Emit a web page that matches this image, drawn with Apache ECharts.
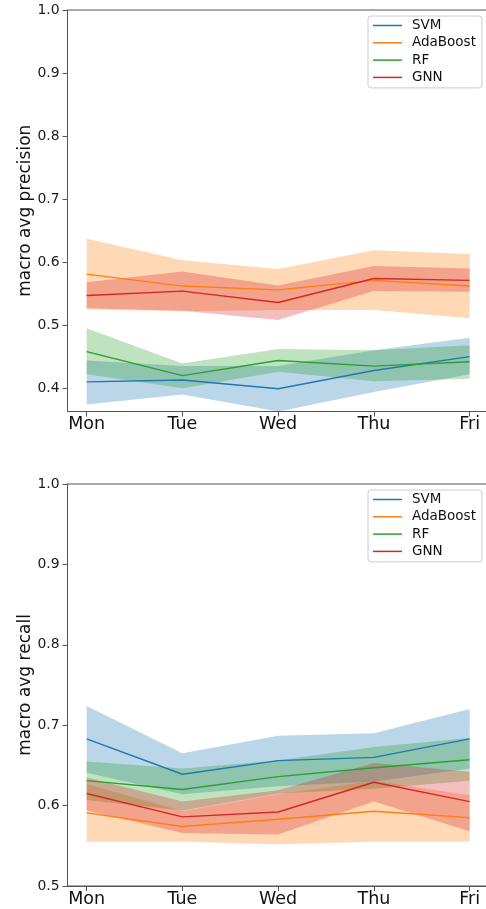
<!DOCTYPE html>
<html><head><meta charset="utf-8">
<script src="https://cdn.jsdelivr.net/npm/echarts@6/dist/echarts.min.js"></script>
<style>html,body{margin:0;padding:0;background:#fff}#c{width:486px;height:909px}</style>
</head><body><div id="c"></div>
<script>
const days = ['Mon', 'Tue', 'Wed', 'Thu', 'Fri'];
const models = ['SVM', 'AdaBoost', 'RF', 'GNN'];
const colors = ['#1f77b4', '#ff7f0e', '#2ca02c', '#d62728'];
const dayTicks = [0, 1, 2, 3, 4];
const yTicksPrecision = [0.4, 0.5, 0.6, 0.7, 0.8, 0.9, 1.0];
const yTicksRecall = [0.5, 0.6, 0.7, 0.8, 0.9, 1.0];

// macro avg precision: mean, lower band, upper band
const precSvmMean = [0.410, 0.413, 0.399, 0.428, 0.450];
const precSvmLow  = [0.374, 0.390, 0.363, 0.394, 0.422];
const precSvmHigh = [0.444, 0.435, 0.435, 0.460, 0.480];
const precAdaMean = [0.581, 0.562, 0.556, 0.571, 0.562];
const precAdaLow  = [0.525, 0.522, 0.524, 0.524, 0.511];
const precAdaHigh = [0.637, 0.603, 0.589, 0.619, 0.613];
const precRfMean  = [0.458, 0.420, 0.444, 0.435, 0.442];
const precRfLow   = [0.422, 0.400, 0.426, 0.411, 0.415];
const precRfHigh  = [0.495, 0.439, 0.462, 0.460, 0.468];
const precGnnMean = [0.547, 0.554, 0.536, 0.574, 0.571];
const precGnnLow  = [0.527, 0.523, 0.508, 0.554, 0.553];
const precGnnHigh = [0.568, 0.585, 0.563, 0.594, 0.590];

// macro avg recall: mean, lower band, upper band
const recSvmMean = [0.683, 0.639, 0.656, 0.660, 0.683];
const recSvmLow  = [0.641, 0.614, 0.624, 0.630, 0.646];
const recSvmHigh = [0.724, 0.665, 0.687, 0.690, 0.720];
const recAdaMean = [0.591, 0.574, 0.583, 0.593, 0.585];
const recAdaLow  = [0.555, 0.555, 0.552, 0.555, 0.555];
const recAdaHigh = [0.627, 0.593, 0.614, 0.631, 0.613];
const recRfMean  = [0.631, 0.620, 0.636, 0.647, 0.657];
const recRfLow   = [0.607, 0.594, 0.615, 0.621, 0.631];
const recRfHigh  = [0.655, 0.646, 0.656, 0.673, 0.684];
const recGnnMean = [0.615, 0.586, 0.592, 0.629, 0.605];
const recGnnLow  = [0.594, 0.566, 0.564, 0.605, 0.568];
const recGnnHigh = [0.635, 0.605, 0.619, 0.653, 0.642];

const panels = [
  { means: [precSvmMean, precAdaMean, precRfMean, precGnnMean],
    lows: [precSvmLow, precAdaLow, precRfLow, precGnnLow],
    highs: [precSvmHigh, precAdaHigh, precRfHigh, precGnnHigh] },
  { means: [recSvmMean, recAdaMean, recRfMean, recGnnMean],
    lows: [recSvmLow, recAdaLow, recRfLow, recGnnLow],
    highs: [recSvmHigh, recAdaHigh, recRfHigh, recGnnHigh] }
];

const FONT = 'DejaVu Sans';
const AX = '#555';
const series = [];

function bandRenderer(color) {
  return function (params, api) {
    if (params.dataIndexInside !== 0) return null;
    const n = params.dataInsideLength;
    const upper = [], lower = [];
    for (let k = 0; k < n; k++) {
      const x = api.value(0, k);
      upper.push(api.coord([x, api.value(2, k)]));
      lower.push(api.coord([x, api.value(1, k)]));
    }
    const pts = upper.concat(lower.reverse());
    return {
      type: 'polygon',
      shape: { points: pts },
      style: { fill: color, opacity: 0.3, stroke: null },
      silent: true
    };
  };
}

panels.forEach((p, gi) => {
  models.forEach((m, i) => {
    series.push({
      type: 'custom', name: m + ' band ' + gi, xAxisIndex: gi, yAxisIndex: gi,
      data: p.lows[i].map((v, k) => [k, v, p.highs[i][k]]),
      encode: { x: 0, y: [1, 2] },
      renderItem: bandRenderer(colors[i]), silent: true, clip: true, z: 1
    });
  });
  models.forEach((m, i) => {
    series.push({
      type: 'line', name: m, xAxisIndex: gi, yAxisIndex: gi,
      data: p.means[i].map((v, k) => [k, v]), symbol: 'none',
      lineStyle: { color: colors[i], width: 1.4 }, itemStyle: { color: colors[i] }, z: 3
    });
  });
});

function xAxis(gi) {
  return {
    gridIndex: gi, type: 'value', min: -0.2, max: 4.2,
    axisLine: { show: true, onZero: false, lineStyle: { color: AX, width: 1 } },
    axisTick: { show: true, customValues: dayTicks, length: 5, lineStyle: { color: AX } },
    axisLabel: { customValues: dayTicks, formatter: v => days[Math.round(v)], fontSize: 17.5,
                 color: '#111', margin: 4, fontFamily: FONT },
    splitLine: { show: false }
  };
}
function yAxis(gi, min, ticks, name) {
  return {
    gridIndex: gi, type: 'value', min: min, max: 1.0,
    axisLine: { show: true, onZero: false, lineStyle: { color: AX, width: 1 } },
    axisTick: { show: true, customValues: ticks, length: 5, lineStyle: { color: AX } },
    axisLabel: { customValues: ticks, formatter: v => v.toFixed(1), fontSize: 13.9,
                 color: '#1a1a1a', margin: 8, fontFamily: FONT },
    splitLine: { show: false },
    name: name, nameLocation: 'middle', nameGap: 33, nameMoveOverlap: false,
    nameTextStyle: { fontSize: 17, color: '#111', fontFamily: FONT }
  };
}
function legend(top) {
  return {
    data: models, orient: 'vertical', left: 368, top: top, icon: 'rect',
    itemWidth: 29, itemHeight: 1.5, itemGap: 0.3,
    padding: [1, 6, 2, 5], borderColor: '#cccccc', borderWidth: 1, borderRadius: 3,
    backgroundColor: 'rgba(255,255,255,0.8)',
    textStyle: { fontSize: 13.5, color: '#111', fontFamily: FONT, lineHeight: 17, padding: [0, 0, 0, 5] },
    selectedMode: false
  };
}

const chart = echarts.init(document.getElementById('c'), null, { renderer: 'canvas' });
chart.setOption({
  animation: false,
  backgroundColor: '#fff',
  grid: [
    { left: 67.5, top: 10, width: 421.3, height: 401.5, show: true, borderColor: AX, borderWidth: 1,
      backgroundColor: 'transparent', containLabel: false, outerBoundsMode: 'none' },
    { left: 67.5, top: 484, width: 421.3, height: 402, show: true, borderColor: AX, borderWidth: 1,
      backgroundColor: 'transparent', containLabel: false, outerBoundsMode: 'none' }
  ],
  legend: [legend(16), legend(490)],
  xAxis: [xAxis(0), xAxis(1)],
  yAxis: [yAxis(0, 0.363, yTicksPrecision, 'macro avg precision'),
          yAxis(1, 0.5, yTicksRecall, 'macro avg recall')],
  series: series
});
</script></body></html>
